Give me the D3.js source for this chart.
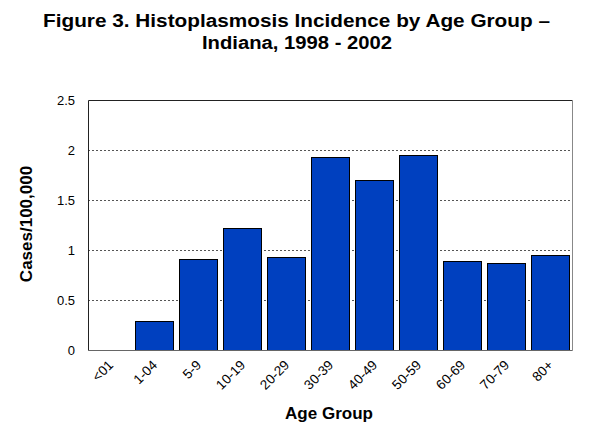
<!DOCTYPE html>
<html><head><meta charset="utf-8">
<script src="https://cdn.jsdelivr.net/npm/d3@7"></script>
<style>body{margin:0;background:#fff}svg{display:block}text{font-family:Arial,"Liberation Sans",sans-serif}</style>
</head><body>
<script>
const categories = ["<01","1-04","5-9","10-19","20-29","30-39","40-49","50-59","60-69","70-79","80+"];
const values = [0, 0.29, 0.91, 1.22, 0.93, 1.93, 1.70, 1.95, 0.89, 0.87, 0.95];
const yTicks = [0, 0.5, 1, 1.5, 2, 2.5];
const titleLines = ["Figure 3. Histoplasmosis Incidence by Age Group \u2013", "Indiana, 1998 - 2002"];
const titleWidths = [507, 190];

const W = 600, H = 433;
const m = {left: 88, right: 28, top: 100, bottom: 83};
const svg = d3.select("body").append("svg").attr("width", W).attr("height", H);
const x = d3.scaleBand().domain(categories).range([m.left, W - m.right]).paddingInner(0.13).paddingOuter(0.065);
const y = d3.scaleLinear().domain([0, 2.5]).range([H - m.bottom, m.top]);

// title
svg.append("text").attr("text-anchor","middle").attr("font-weight","bold").attr("font-size",18)
  .selectAll("tspan").data(titleLines).join("tspan")
  .attr("x", (d,i)=> i===0 ? 296.5 : 297).attr("y", (d,i)=> 27 + i*22)
  .attr("textLength",(d,i)=>titleWidths[i]).attr("lengthAdjust","spacingAndGlyphs")
  .text(d=>d);

// gridlines
svg.append("g").selectAll("line").data(yTicks.filter(t=>t>0 && t<2.5)).join("line")
  .attr("x1", m.left).attr("x2", W - m.right)
  .attr("y1", d=>Math.round(y(d))+0.5).attr("y2", d=>Math.round(y(d))+0.5)
  .attr("stroke","#555").attr("stroke-dasharray","2,2");

// bars
svg.append("g").selectAll("rect").data(values).join("rect")
  .attr("x",(d,i)=>Math.round(x(categories[i]))+0.5)
  .attr("y",d=>Math.round(y(d))+0.5)
  .attr("width",Math.round(x.bandwidth()))
  .attr("height",d=>Math.max(0, Math.round(y(0))-Math.round(y(d))))
  .attr("fill",d=>d>0?"#0040BF":"none")
  .attr("stroke",d=>d>0?"#000":"none").attr("stroke-width",1);

// frame
const L = m.left+0.5, R = W-m.right+0.5, T = m.top+0.5, B = H-m.bottom+0.5;
svg.append("line").attr("x1",L).attr("x2",R).attr("y1",T).attr("y2",T).attr("stroke","#222");
svg.append("line").attr("x1",R).attr("x2",R).attr("y1",T).attr("y2",B).attr("stroke","#888");
svg.append("line").attr("x1",L).attr("x2",R).attr("y1",B).attr("y2",B).attr("stroke","#666");
svg.append("line").attr("x1",L).attr("x2",L).attr("y1",T).attr("y2",B).attr("stroke","#222");

// y axis labels
const yAxis = d3.axisLeft(y).tickValues(yTicks).tickSize(0).tickPadding(13).tickFormat(d3.format("~g"));
const ga = svg.append("g").attr("transform",`translate(${m.left},0)`).call(yAxis);
ga.select(".domain").remove();
ga.selectAll("text").attr("font-size",13).attr("fill","#000").style("font-family","Arial, 'Liberation Sans', sans-serif");

// x axis labels
const xAxis = d3.axisBottom(x).tickSize(0).tickPadding(0);
const gx = svg.append("g").attr("transform",`translate(0,${H-m.bottom})`).call(xAxis);
gx.select(".domain").remove();
gx.selectAll("text").attr("font-size",13.5).attr("fill","#000").style("font-family","Arial, 'Liberation Sans', sans-serif")
  .attr("text-anchor","end").attr("dy",0).attr("y",0)
  .attr("transform","translate(4,16) rotate(-45)");

// axis titles
svg.append("text").attr("text-anchor","middle").attr("font-weight","bold").attr("font-size",17)
  .attr("transform","translate(32,224) rotate(-90)").text("Cases/100,000");
svg.append("text").attr("text-anchor","middle").attr("font-weight","bold").attr("font-size",17)
  .attr("x",329).attr("y",419).text("Age Group");
</script>
</body></html>
